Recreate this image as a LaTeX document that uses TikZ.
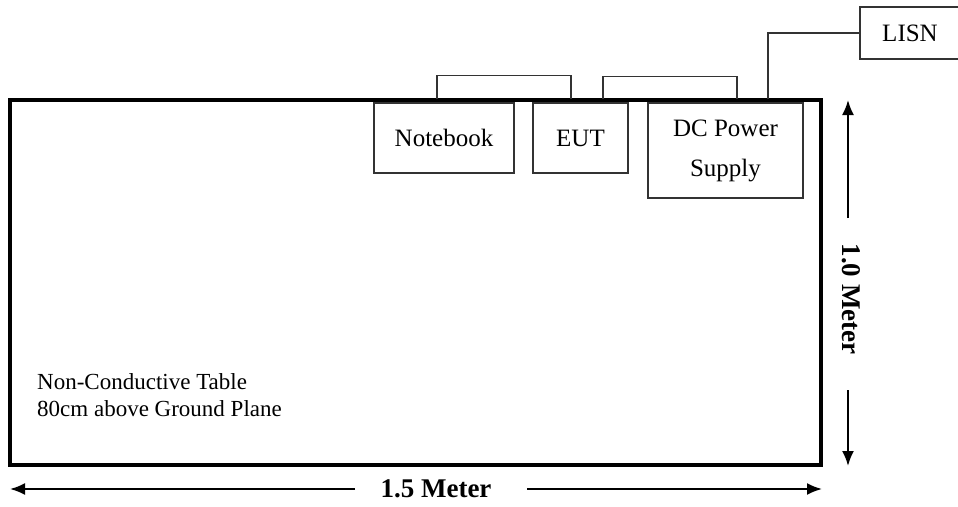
\documentclass[tikz,border=0pt]{standalone}
\usepackage{fontspec}
\setmainfont{Liberation Serif}
\usetikzlibrary{arrows.meta,calc}
\begin{document}
\begin{tikzpicture}[x=1pt,y=1pt,
  box/.style={draw=black!80,line width=1.3pt,inner sep=0pt,font=\fontsize{25}{38}\selectfont,align=center},
  wire/.style={draw=black!80,line width=1.3pt},
  dim/.style={line width=2pt,-{Latex[length=15pt,width=12pt]}},
  lbl/.style={font=\fontsize{27}{30}\selectfont\bfseries,inner sep=0pt}]
\useasboundingbox (0,0) rectangle (958,-506);
\fill[white] (0,0) rectangle (958,-506);
% table
\node[draw,line width=4pt,minimum width=811pt,minimum height=365pt,inner sep=0pt] (table) at (415.5,-282.5) {};
% equipment
\node[box,minimum width=140pt,minimum height=70pt] (nb) at (444,-138) {Notebook};
\node[box,minimum width=95pt,minimum height=70pt] (eut) at (580.5,-138) {EUT};
\node[box,minimum width=155pt,minimum height=95pt,font=\fontsize{25}{40}\selectfont] (dc) at (725.5,-150.5) {\raisebox{-4pt}{DC Power}\\\raisebox{-4pt}{Supply}};
\node[box,minimum width=100pt,minimum height=52pt] (lisn) at (910,-33) {LISN};
% wires
\draw[wire] ($(nb.north)+(-7,3)$) -- ++(0,24) -| ($(eut.north)+(-9.5,3)$);
\draw[wire] ($(eut.north)+(22.5,3)$) -- ++(0,23) -| ($(dc.north)+(11.5,3)$);
\draw[wire] ($(dc.north)+(42.5,3)$) |- (lisn.west);
% table note
\node[anchor=west,align=left,font=\fontsize{23}{27}\selectfont,inner sep=0pt] (note) at (37,-395) {Non-Conductive Table\\80cm above Ground Plane};
% dimensions
\coordinate (vt) at (848,-100);
\coordinate (vb) at (848,-466);
\coordinate (vu) at (848,-218);
\coordinate (vl) at (848,-390);
\node[lbl,rotate=-90] (vlab) at (851,-299) {1.0 Meter};
\draw[dim] (vu) -- (vt);
\draw[dim] (vl) -- (vb);
\coordinate (hl) at (10,-489);
\coordinate (hr) at (822,-489);
\coordinate (hll) at (355,-489);
\coordinate (hrr) at (527,-489);
\node[lbl] (hlab) at (436,-489) {1.5 Meter};
\draw[dim] (hll) -- (hl);
\draw[dim] (hrr) -- (hr);
\end{tikzpicture}
\end{document}
